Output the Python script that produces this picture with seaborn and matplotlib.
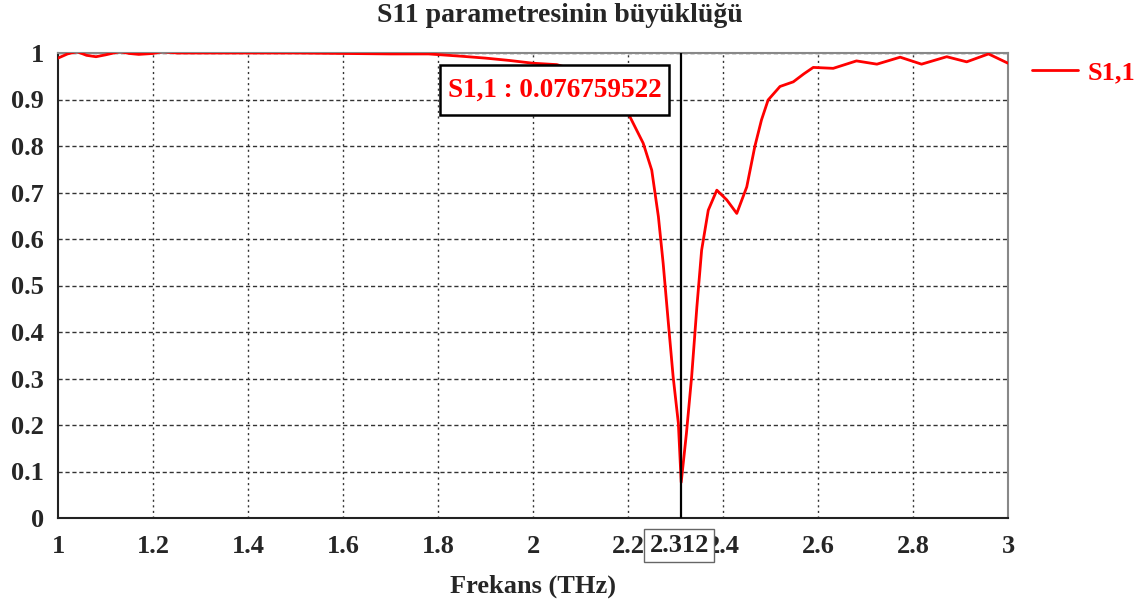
import matplotlib
matplotlib.use("Agg")
import matplotlib.pyplot as plt
from matplotlib.patches import Rectangle
import seaborn as sns
import pandas as pd

# S11 magnitude (THz, |S11|)
freq = [1.00, 1.02, 1.04, 1.06, 1.08, 1.10, 1.13, 1.15, 1.17, 1.20, 1.22, 1.25,
        1.30, 1.40, 1.50, 1.60, 1.70, 1.78, 1.85, 1.90, 1.95, 2.00, 2.05, 2.10,
        2.15, 2.18, 2.204, 2.232, 2.250, 2.264, 2.274, 2.285, 2.295, 2.306, 2.312,
        2.323, 2.334, 2.345, 2.355, 2.369, 2.387, 2.408, 2.429, 2.450, 2.467,
        2.481, 2.495, 2.520, 2.548, 2.570, 2.590, 2.632, 2.681, 2.724, 2.773,
        2.818, 2.871, 2.913, 2.959, 3.00]
s11 = [0.989, 0.998, 1.003, 0.995, 0.992, 0.996, 1.003, 0.999, 0.997, 0.999, 1.003, 1.0,
       1.0, 1.0, 1.0, 0.999, 0.998, 0.998, 0.993, 0.989, 0.984, 0.978, 0.975, 0.960,
       0.935, 0.905, 0.863, 0.806, 0.748, 0.648, 0.548, 0.419, 0.304, 0.204, 0.0768,
       0.182, 0.304, 0.454, 0.576, 0.662, 0.705, 0.684, 0.655, 0.712, 0.799,
       0.856, 0.899, 0.928, 0.938, 0.955, 0.969, 0.967, 0.983, 0.976, 0.991,
       0.976, 0.992, 0.981, 0.998, 0.978]

marker_f = 2.312
marker_text = "S1,1 : 0.076759522"
xticks = [1, 1.2, 1.4, 1.6, 1.8, 2, 2.2, 2.4, 2.6, 2.8, 3]
xticklabels = ["1", "1.2", "1.4", "1.6", "1.8", "2", "2.2", "2.4", "2.6", "2.8", "3"]
yticks = [0, 0.1, 0.2, 0.3, 0.4, 0.5, 0.6, 0.7, 0.8, 0.9, 1]
yticklabels = ["0", "0.1", "0.2", "0.3", "0.4", "0.5", "0.6", "0.7", "0.8", "0.9", "1"]

df = pd.DataFrame({"Frekans": freq, "S11": s11})

sns.set_style("white")
plt.rcParams["font.family"] = ["Liberation Serif", "DejaVu Serif"]
plt.rcParams["font.weight"] = "bold"

fig = plt.figure(figsize=(11.46, 6.05), dpi=100)
ax = fig.add_axes([58 / 1146, 1 - 518 / 605, 950 / 1146, 465 / 605])

sns.lineplot(data=df, x="Frekans", y="S11", color="red", lw=2, ax=ax,
             label="S1,1", zorder=3)

ax.set_xlim(1, 3)
ax.set_ylim(0, 1)
ax.set_xticks(xticks)
ax.set_xticklabels(xticklabels)
ax.set_yticks(yticks)
ax.set_yticklabels(yticklabels)
ax.tick_params(axis="both", labelsize=19, length=4, width=1, color="#555",
               direction="out")
ax.tick_params(axis="x", pad=8)
ax.tick_params(axis="y", pad=6)
for lab in ax.get_xticklabels() + ax.get_yticklabels():
    lab.set_fontweight("bold")

# grid: dotted verticals, dashed horizontals
for x in xticks[1:-1]:
    ax.axvline(x, color="#333", lw=1, ls=(0, (1.5, 2.5)), zorder=1)
for y in yticks[1:]:
    ax.axhline(y, color="#333", lw=1, ls=(0, (3, 2)), zorder=1)

for side in ["left", "bottom"]:
    ax.spines[side].set_color("#222")
    ax.spines[side].set_linewidth(1.5)
for side in ["top", "right"]:
    ax.spines[side].set_color("#888")
    ax.spines[side].set_linewidth(1.5)

# marker line and readout
ax.axvline(marker_f, color="black", lw=1.6, zorder=4)
ax.add_patch(Rectangle((1.804, 0.867), 0.482, 0.107, fc="white", ec="black",
                       lw=1.8, zorder=5))
ax.text(2.045, 0.920, marker_text, color="red", fontsize=19.5, fontweight="bold",
        ha="center", va="center", zorder=6)
ax.text(marker_f - 0.004, -0.059, "2.312", color="#222", fontsize=19, fontweight="bold",
        ha="center", va="center", zorder=6, clip_on=False,
        bbox=dict(boxstyle="square,pad=0.2", fc="white", ec="#666", lw=1))

ax.set_xlabel("Frekans (THz)", fontsize=19, fontweight="bold", labelpad=12)
ax.set_ylabel("")
fig.text(560 / 1146, 1 - 15 / 605, "S11 parametresinin büyüklüğü", fontsize=20,
         fontweight="bold", ha="center", va="center")

leg = ax.legend(loc="center left", bbox_to_anchor=(1.025, 0.957), frameon=False,
                handlelength=1.75, handletextpad=0.35, borderpad=0, borderaxespad=0,
                fontsize=19)
for t in leg.get_texts():
    t.set_color("red")
    t.set_fontweight("bold")

fig.savefig("out.png", dpi=100)
